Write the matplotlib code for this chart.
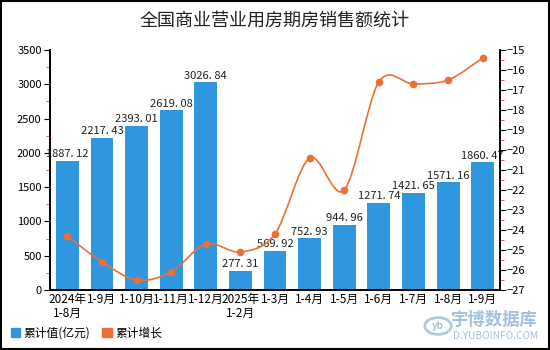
import numpy as np
import matplotlib.pyplot as plt
from matplotlib.path import Path
from matplotlib.patches import PathPatch, Patch, Circle
from matplotlib.ticker import MultipleLocator

plt.rcParams['font.family'] = ['Noto Sans CJK SC', 'DejaVu Sans']

# data
months = ["2024年\n1-8月", "1-9月", "1-10月", "1-11月", "1-12月", "2025年\n1-2月",
          "1-3月", "1-4月", "1-5月", "1-6月", "1-7月", "1-8月", "1-9月"]
sales = [1887.12, 2217.43, 2393.01, 2619.08, 3026.84, 277.31,
         569.92, 752.93, 944.96, 1271.74, 1421.65, 1571.16, 1860.47]
growth = [-24.3, -25.6, -26.5, -26.1, -24.7, -25.1,
          -24.2, -20.4, -22.0, -16.6, -16.7, -16.5, -15.4]

bar_color = "#2F96E0"
line_color = "#EC7035"

fig = plt.figure(figsize=(5.5, 3.5), dpi=100)
ax = fig.add_axes([50 / 550, 60 / 350, 450 / 550, 240 / 350])
ax2 = ax.twinx()

x = np.arange(len(months))
ax.bar(x, sales, width=0.66, color=bar_color, zorder=2)
for xi, v in zip(x, sales):
    ax.text(xi, v + 25, f"{v:.2f}".replace(".", ". "), ha="center", va="bottom",
            fontsize=8, color="#222222", zorder=3)

ax.set_xlim(-0.5, len(months) - 0.5)
ax.set_ylim(0, 3500)
ax.yaxis.set_major_locator(MultipleLocator(500))
ax.yaxis.set_minor_locator(MultipleLocator(250))
ax.set_xticks(x)
ax.set_xticklabels(months, fontsize=8.5, linespacing=1.1)
ax.tick_params(axis="x", length=0, pad=2)
ax.tick_params(axis="y", which="major", labelsize=8, length=4, direction="out", color="black", pad=2)
ax.tick_params(axis="y", which="minor", length=3, direction="out", color="#E03C31")

# smooth line drawn as bezier segments through the data points
xs = x.astype(float)
ys = np.array(growth)
verts = [(xs[0], ys[0])]
codes = [Path.MOVETO]
t = 0.16
for i in range(len(xs) - 1):
    p0 = (xs[max(i - 1, 0)], ys[max(i - 1, 0)])
    p1 = (xs[i], ys[i])
    p2 = (xs[i + 1], ys[i + 1])
    p3 = (xs[min(i + 2, len(xs) - 1)], ys[min(i + 2, len(xs) - 1)])
    c1 = (p1[0] + (p2[0] - p0[0]) * t, p1[1] + (p2[1] - p0[1]) * t)
    c2 = (p2[0] - (p3[0] - p1[0]) * t, p2[1] - (p3[1] - p1[1]) * t)
    verts += [c1, c2, p2]
    codes += [Path.CURVE4] * 3
ax2.add_patch(PathPatch(Path(verts, codes), facecolor="none", edgecolor=line_color, lw=1.2, zorder=4))
ax2.plot(xs, ys, "o", color=line_color, markersize=4.5, zorder=5)

ax2.set_ylim(-27, -15)
ax2.yaxis.set_major_locator(MultipleLocator(1))
ax2.yaxis.set_minor_locator(MultipleLocator(0.5))
ax2.tick_params(axis="y", which="major", labelsize=8, length=4, direction="out", color="black", pad=1)
ax2.tick_params(axis="y", which="minor", length=3, direction="out", color="#E03C31")
ax2.set_yticklabels([f"{int(v)}".replace("-", "\u2212") for v in ax2.get_yticks()])

for a in (ax, ax2):
    a.spines["top"].set_visible(False)
    a.spines["left"].set_linewidth(1.2)
    a.spines["right"].set_linewidth(1.2)
    a.spines["bottom"].set_linewidth(1.2)

fig.text(0.5, 0.94, "全国商业营业用房期房销售额统计", ha="center", va="center", fontsize=13, color="#222222")

handles = [Patch(color=bar_color), Patch(color=line_color)]
fig.legend(handles, ["累计值(亿元)", "累计增长"], loc="lower left", bbox_to_anchor=(0.0, 0.0),
           ncol=2, frameon=False, fontsize=8.5, handlelength=0.8, handleheight=0.8,
           handletextpad=0.3, columnspacing=1.0)

# watermark
fig.patches.append(Circle((438 / 550, 1 - 326 / 350), 0.024, transform=fig.transFigure,
                          fill=False, edgecolor="#8FB3DA", lw=2, alpha=0.7))
fig.text(438 / 550, 1 - 326 / 350, "yb", ha="center", va="center", fontsize=7, color="#8FB3DA",
         style="italic", fontweight="bold", alpha=0.8)
fig.text(0.978, 1 - 320 / 350, "宇博数据库", ha="right", va="center", fontsize=12.5, color="#7FA6D4", alpha=0.7, fontweight="bold")
fig.text(0.978, 1 - 336 / 350, "D.YUBOINFO.COM", ha="right", va="center", fontsize=7.3, color="#7FA6D4", alpha=0.7)

fig.patches.append(plt.Rectangle((0.001, 0.002), 0.997, 0.995, transform=fig.transFigure,
                                 fill=False, edgecolor="black", lw=1.5))

fig.savefig("out.png", dpi=100)
